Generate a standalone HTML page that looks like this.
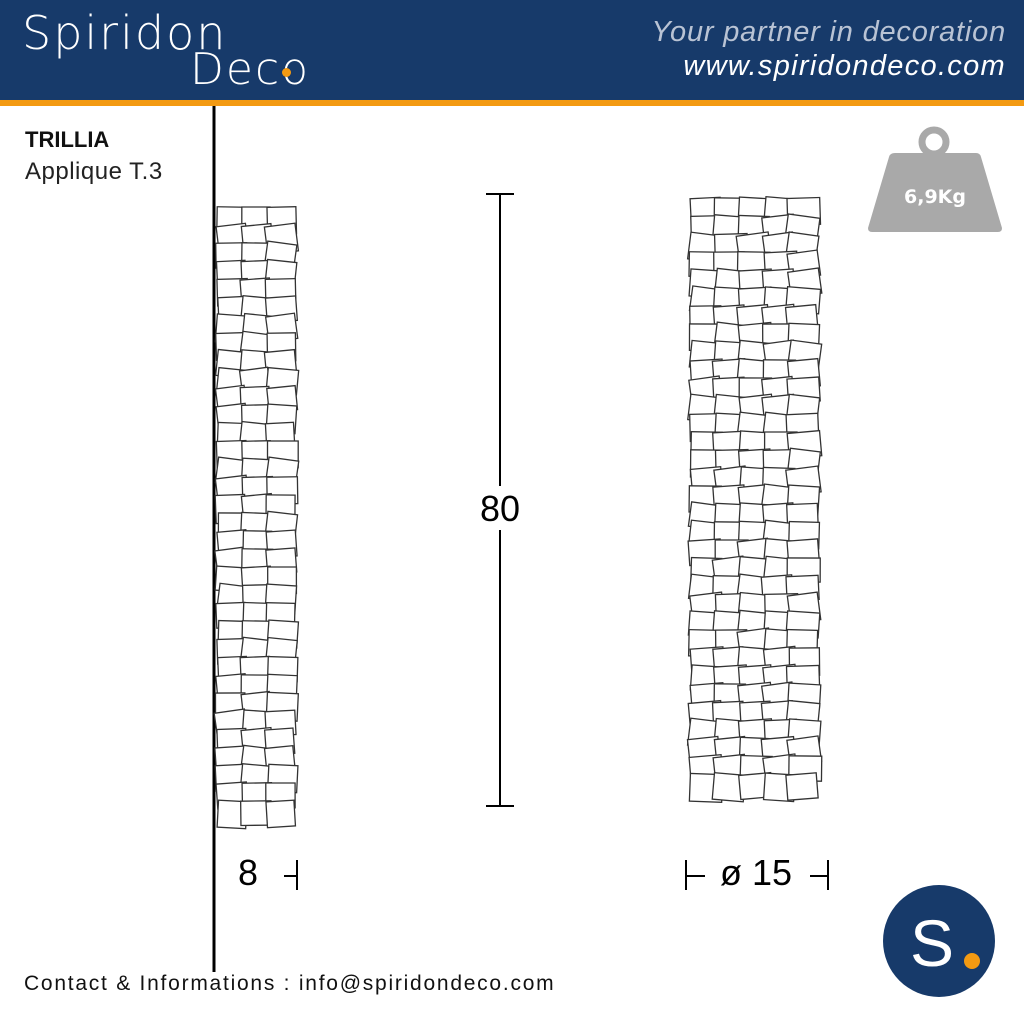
<!DOCTYPE html>
<html><head><meta charset="utf-8"><style>
body{margin:0;width:1024px;height:1024px;overflow:hidden;background:#fff;font-family:"Liberation Sans",sans-serif;position:relative}
.hdr{position:absolute;left:0;top:0;width:1024px;height:100px;background:#173a6a}
.or{position:absolute;left:0;top:100px;width:1024px;height:6px;background:#f39a12}
.t{position:absolute;white-space:nowrap}
</style></head><body>
<div class="hdr"></div><div class="or"></div>
<div class="t" style="left:22px;top:6px;font-size:46px;color:#fff;letter-spacing:2px;font-family:'DejaVu Sans',sans-serif;font-weight:200">Spiridon</div>
<div class="t" style="left:190px;top:44px;font-size:44px;color:#fff;letter-spacing:2px;font-family:'DejaVu Sans',sans-serif;font-weight:200">Deco</div>
<div style="position:absolute;left:282px;top:68px;width:9px;height:9px;border-radius:50%;background:#f39a12"></div>
<div class="t" style="right:18px;top:16px;font-size:29px;color:#b9c3d4;font-style:italic;letter-spacing:0.8px">Your partner in decoration</div>
<div class="t" style="right:18px;top:50px;font-size:29px;color:#fff;font-style:italic;letter-spacing:1.3px">www.spiridondeco.com</div>
<div class="t" style="left:25px;top:127px;font-size:22px;font-weight:bold;color:#111">TRILLIA</div>
<div class="t" style="left:25px;top:158px;font-size:24px;color:#222;letter-spacing:0.5px">Applique T.3</div>
<div class="t" style="left:24px;top:972px;font-size:21px;color:#111;letter-spacing:1.75px">Contact &amp; Informations : info@spiridondeco.com</div>
<svg width="1024" height="1024" style="position:absolute;left:0;top:0">
<line x1="214" y1="106" x2="214" y2="972" stroke="#000" stroke-width="3"/>
<g id="L"></g><g id="R"></g>
<g stroke="#000" stroke-width="2">
<line x1="500" y1="194" x2="500" y2="806"/><line x1="486" y1="194" x2="514" y2="194"/><line x1="486" y1="806" x2="514" y2="806"/>
<line x1="284" y1="876" x2="297" y2="876"/><line x1="297" y1="860" x2="297" y2="890"/>
<line x1="686" y1="860" x2="686" y2="890"/><line x1="686" y1="876" x2="705" y2="876"/>
<line x1="828" y1="860" x2="828" y2="890"/><line x1="810" y1="876" x2="828" y2="876"/>
</g>
<rect x="474" y="486" width="52" height="44" fill="#fff"/>
<text x="500" y="521" font-size="36" text-anchor="middle" font-family="Liberation Sans">80</text>
<text x="248" y="885" font-size="36" text-anchor="middle" font-family="Liberation Sans">8</text>
<text x="756" y="885" font-size="36" text-anchor="middle" font-family="Liberation Sans">ø 15</text>
<circle cx="934" cy="142" r="12" fill="none" stroke="#a9a9a9" stroke-width="7"/>
<path d="M895 153 H976 Q980 153 981 157 L1002 228 Q1002 232 998 232 H872 Q868 232 868 228 L889 157 Q890 153 895 153Z" fill="#a9a9a9"/>
<text x="935" y="203" font-size="19" font-weight="bold" fill="#fff" text-anchor="middle" font-family="DejaVu Sans">6,9Kg</text>
<circle cx="939" cy="941" r="56" fill="#173a6a"/>
<text x="932" y="966" font-size="66" fill="#fff" text-anchor="middle" font-family="Liberation Sans">S</text>
<circle cx="972" cy="961" r="8" fill="#f39a12"/>
</svg>
<script>
var s=7;function r(){s=(s*9301+49297)%233280;return s/233280;}
function lamp(id,x0,x1,y0,y1,w,n){var g=document.getElementById(id),h='';var st=(x1-x0-w)/(n-1);
for(var y=y0;y<y1-24;y+=18){for(var i=0;i<n;i++){var x=x0+i*st+(r()-0.5)*3,a=(r()-0.5)*16,ww=w-2+r()*3,hh=24+r()*4;
var cx=x+ww/2,cy=y+hh/2;
h+='<rect x="'+x.toFixed(1)+'" y="'+y.toFixed(1)+'" width="'+ww.toFixed(1)+'" height="'+hh.toFixed(1)+'" fill="#fff" stroke="#333" stroke-width="1.3" transform="rotate('+a.toFixed(1)+' '+cx.toFixed(1)+' '+cy.toFixed(1)+')"/>';}}
g.innerHTML=h;}
lamp('L',217,297,207,826,30,3);
lamp('R',690,820,198,814,32,5);
</script>
</body></html>
